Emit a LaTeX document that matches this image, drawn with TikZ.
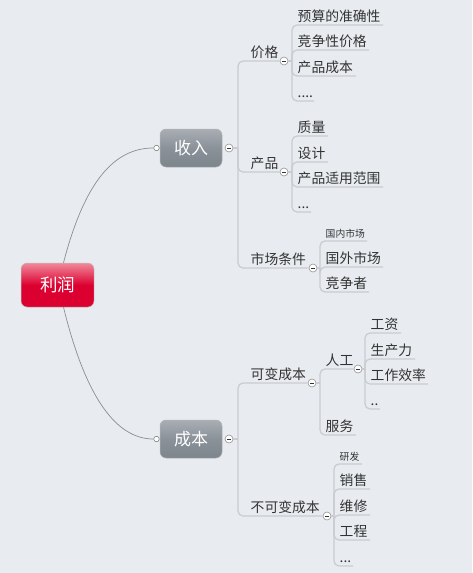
\documentclass[tikz,border=0pt]{standalone}
\usepackage{fontspec}
\setmainfont{Noto Sans CJK SC}
\definecolor{bg}{HTML}{E8ECF0}
\definecolor{linec}{HTML}{C8CCD1}
\definecolor{txt}{HTML}{333333}
\definecolor{curvec}{HTML}{8A8E94}
\definecolor{gtop}{HTML}{A9AEB4}
\definecolor{gbot}{HTML}{7D858D}
\definecolor{rtop}{HTML}{F08A9C}
\definecolor{rmid}{HTML}{DC0030}
\begin{document}
\begin{tikzpicture}[x=1pt,y=-1pt,
 lbl/.style={anchor=south west,inner sep=1.5pt,text depth=2pt,text=txt,font=\fontsize{13.8}{15}\selectfont},
 slbl/.style={lbl,font=\fontsize{9.8}{11}\selectfont},
 br/.style={draw=linec,line width=1.2pt,rounded corners=5pt},
 ln/.style={draw=linec,line width=1.2pt},
 minus/.style={circle,draw=gray!85,fill=white,inner sep=0pt,minimum size=8pt,line width=0.6pt,
   path picture={\draw[line width=1pt,black!80] ([xshift=-1.8pt]path picture bounding box.center) -- ([xshift=1.8pt]path picture bounding box.center);}},
 dotc/.style={circle,draw=gray,fill=white,inner sep=0pt,minimum size=5.5pt,line width=0.6pt},
 topic/.style={rounded corners=6pt,draw=gray!60,line width=0.5pt,minimum width=62pt,minimum height=38pt,text=white,
   font=\fontsize{17}{20}\selectfont,top color=gtop,bottom color=gbot,middle color=gbot!70!gtop},
 rootbox/.style={rounded corners=6pt,draw=gray!50,line width=0.5pt,minimum width=73pt,minimum height=44pt,text=white,
   font=\fontsize{17.5}{20}\selectfont,top color=rtop,bottom color=rmid,middle color=rmid}
]
\fill[bg] (0,0) rectangle (472,573);

% main topics
\node[rootbox] (root) at (57.5,285) {利润};
\node[topic] (sr) at (191,148) {收入};
\node[topic] (cb) at (191,439) {成本};
\node[dotc] (srd) at (156.5,148) {};
\node[dotc] (cbd) at (156.5,439) {};
\node[minus] (msr) at (229,148) {};
\node[minus] (mcb) at (229,439) {};

\draw[curvec,line width=0.7pt] ([xshift=6pt]root.north) .. controls (85,180) and (115,148) .. (srd.west);
\draw[curvec,line width=0.7pt] ([xshift=6pt]root.south) .. controls (85,395) and (115,439) .. (cbd.west);

% ---- 收入 branch
\node[lbl] (jg) at (249,61) {价格};
\node[lbl] (cp) at (249,172) {产品};
\node[lbl] (sc) at (249,268) {市场条件};
\node[minus] (mjg) at (284,61) {};
\node[minus] (mcp) at (284,172) {};
\node[minus] (msc) at (313,268) {};
\draw[ln] (msr.east) -- (238,148);
\draw[br] (238,148) |- (mjg.west);
\draw[br] (238,148) |- (mcp.west);
\draw[br] (238,148) |- (msc.west);

% 价格 children
\node[lbl] (a1) at (296,25) {预算的准确性};
\node[lbl] (a2) at (296,50) {竞争性价格};
\node[lbl] (a3) at (296,76) {产品成本};
\node[lbl] (a4) at (296,101) {....};
\draw[ln] (mjg.east) -- (292,61);
\draw[br] (292,61) |- (383,25);
\draw[br] (292,61) |- (369,50);
\draw[br] (292,61) |- (356,76);
\draw[br] (292,61) |- (314,101);

% 产品 children
\node[lbl] (b1) at (296,136) {质量};
\node[lbl] (b2) at (296,162) {设计};
\node[lbl] (b3) at (296,187) {产品适用范围};
\node[lbl] (b4) at (296,212) {...};
\draw[ln] (mcp.east) -- (292,172);
\draw[br] (292,172) |- (328,136);
\draw[br] (292,172) |- (328,162);
\draw[br] (292,172) |- (383,187);
\draw[br] (292,172) |- (311,212);

% 市场条件 children
\node[slbl] (c1) at (324,241) {国内市场};
\node[lbl] (c2) at (324,267) {国外市场};
\node[lbl] (c3) at (324,292) {竞争者};
\draw[ln] (msc.east) -- (320,268);
\draw[br] (320,268) |- (367,241);
\draw[br] (320,268) |- (383,267);
\draw[br] (320,268) |- (369,292);

% ---- 成本 branch
\node[lbl] (kb) at (249,383) {可变成本};
\node[lbl] (bk) at (249,516) {不可变成本};
\node[minus] (mkb) at (312,383) {};
\node[minus] (mbk) at (327,516) {};
\draw[ln] (mcb.east) -- (238,439);
\draw[br] (238,439) |- (mkb.west);
\draw[br] (238,439) |- (mbk.west);

% 可变成本 children
\node[lbl] (rg) at (324,369) {人工};
\node[lbl] (fw) at (324,435) {服务};
\node[minus] (mrg) at (358,369) {};
\draw[ln] (mkb.east) -- (320,383);
\draw[br] (320,383) |- (mrg.west);
\draw[br] (320,383) |- (356,435);

% 人工 children
\node[lbl] (d1) at (369,333) {工资};
\node[lbl] (d2) at (369,359) {生产力};
\node[lbl] (d3) at (369,384) {工作效率};
\node[lbl] (d4) at (369,409) {..};
\draw[ln] (mrg.east) -- (365,369);
\draw[br] (365,369) |- (401,333);
\draw[br] (365,369) |- (415,359);
\draw[br] (365,369) |- (428,384);
\draw[br] (365,369) |- (380,409);

% 不可变成本 children
\node[slbl] (e1) at (338,464) {研发};
\node[lbl] (e2) at (338,489) {销售};
\node[lbl] (e3) at (338,515) {维修};
\node[lbl] (e4) at (338,540) {工程};
\node[lbl] (e5) at (338,566) {...};
\draw[ln] (mbk.east) -- (334,516);
\draw[br] (334,516) |- (362,464);
\draw[br] (334,516) |- (370,489);
\draw[br] (334,516) |- (370,515);
\draw[br] (334,516) |- (370,540);
\draw[br] (334,516) |- (353,566);
\end{tikzpicture}
\end{document}
